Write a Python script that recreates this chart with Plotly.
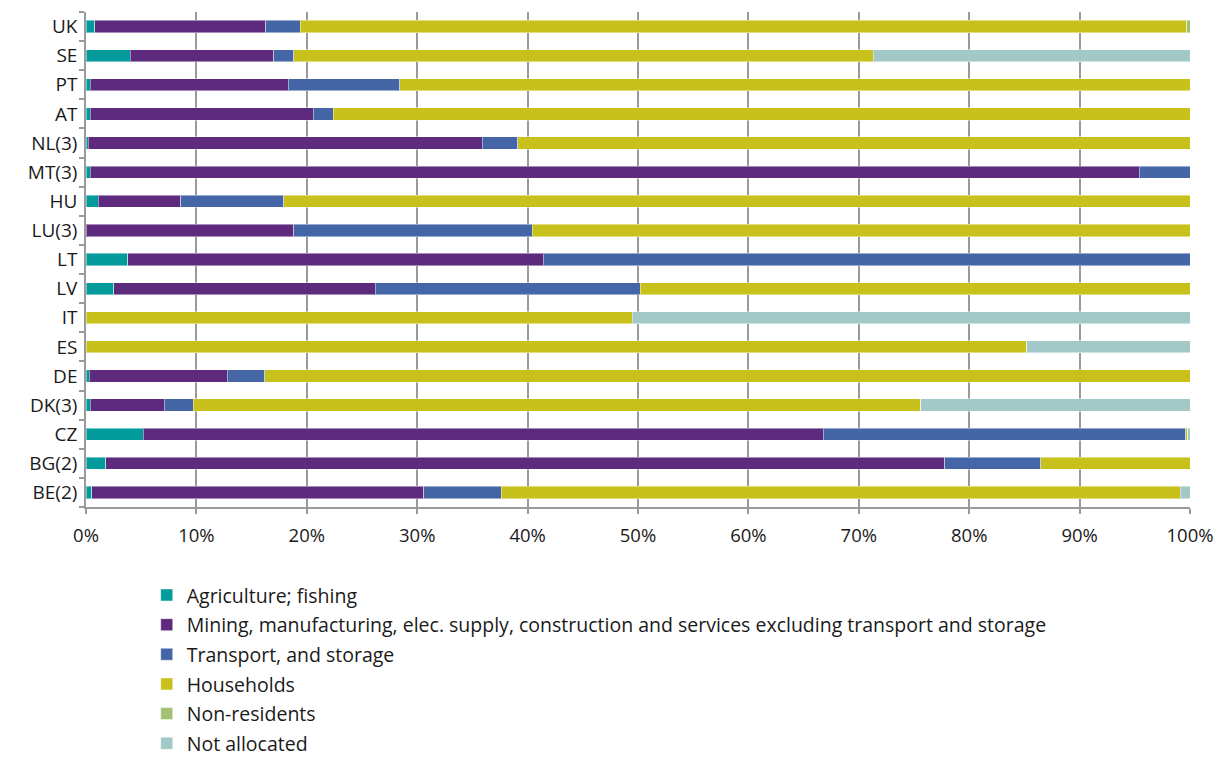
import plotly.graph_objects as go

countries = ["BE(2)", "BG(2)", "CZ", "DK(3)", "DE", "ES", "IT", "LV", "LT",
             "LU(3)", "HU", "MT(3)", "NL(3)", "AT", "PT", "SE", "UK"]

agriculture = [0.5, 1.8, 5.2, 0.4, 0.3, 0.0, 0.0, 2.5, 3.8,
               0.0, 1.1, 0.4, 0.2, 0.4, 0.4, 4.0, 0.8]
mining = [30.1, 76.0, 61.6, 6.7, 12.5, 0.0, 0.0, 23.7, 37.6,
          18.8, 7.5, 95.0, 35.7, 20.2, 17.9, 13.0, 15.5]
transport = [7.0, 8.7, 32.8, 2.6, 3.4, 0.0, 0.0, 24.0, 58.6,
             21.6, 9.3, 4.6, 3.2, 1.8, 10.1, 1.8, 3.1]
households = [61.5, 13.5, 0.2, 65.9, 83.8, 85.2, 49.5, 49.8, 0.0,
              59.6, 82.1, 0.0, 60.9, 77.6, 71.6, 52.5, 80.3]
non_residents = [0.0, 0.0, 0.0, 0.0, 0.0, 0.0, 0.0, 0.0, 0.0,
                 0.0, 0.0, 0.0, 0.0, 0.0, 0.0, 0.0, 0.3]
not_allocated = [0.9, 0.0, 0.2, 24.4, 0.0, 14.8, 50.5, 0.0, 0.0,
                 0.0, 0.0, 0.0, 0.0, 0.0, 0.0, 28.7, 0.0]

series = [
    ("Agriculture; fishing", agriculture, "#009B9A"),
    ("Mining, manufacturing, elec. supply, construction and services excluding transport and storage", mining, "#5E2A7E"),
    ("Transport, and storage", transport, "#4466A6"),
    ("Households", households, "#C8C01B"),
    ("Non-residents", non_residents, "#A3C173"),
    ("Not allocated", not_allocated, "#A3C8C8"),
]

FONT = "Open Sans"

fig = go.Figure()
for i, (name, vals, col) in enumerate(series):
    fig.add_trace(go.Bar(
        y=countries, x=vals, name=name, orientation="h",
        marker=dict(color=col, line=dict(color="rgba(255,255,255,0.45)", width=1)),
        legendgroup="g%d" % i,
    ))

fig.update_layout(
    barmode="stack",
    bargap=0.58,
    width=1223, height=760,
    margin=dict(l=86, r=33, t=12, b=253, autoexpand=False),
    paper_bgcolor="white", plot_bgcolor="white",
    font=dict(family=FONT, size=19, color="#1a1a1a"),
    xaxis=dict(
        range=[0, 100], tickvals=list(range(0, 101, 10)),
        ticktext=["%d%%" % v for v in range(0, 101, 10)],
        showgrid=True, gridcolor="#9a9a9a", gridwidth=1.5,
        showline=True, linecolor="#9a9a9a", linewidth=1.5,
        ticks="outside", ticklen=5, tickcolor="#9a9a9a", tickwidth=1.5,
        zeroline=False, tickfont=dict(size=18.5, family=FONT),
        ticklabelstandoff=6, automargin=False,
    ),
    yaxis=dict(
        categoryorder="array", categoryarray=countries,
        showline=True, linecolor="#9a9a9a", linewidth=1.5,
        ticks="outside", tickson="boundaries", ticklen=5,
        tickcolor="#9a9a9a", tickwidth=1.5,
        showgrid=False, tickfont=dict(size=19, family=FONT),
        ticklabelstandoff=3, automargin=False,
    ),
    legend=dict(
        orientation="v", x=0.055, xanchor="left", y=-0.139, yanchor="top",
        font=dict(size=19.5, family=FONT), tracegroupgap=1.3,
        traceorder="grouped", itemwidth=30,
    ),
)

fig.write_html("out.html")
